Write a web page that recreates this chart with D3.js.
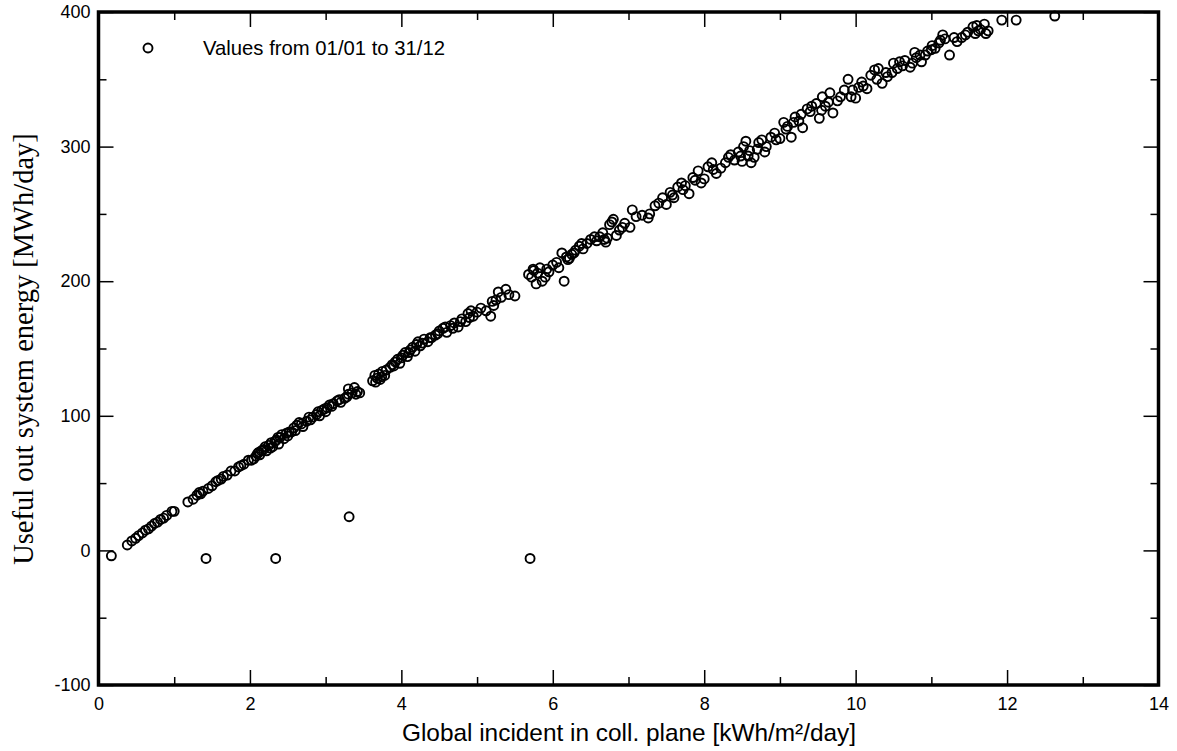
<!DOCTYPE html>
<html><head><meta charset="utf-8">
<script src="https://cdn.jsdelivr.net/npm/d3@7"></script>
<style>body{margin:0;background:#fff}</style>
</head><body>
<svg id="chart" width="1177" height="751"></svg>
<script>
// Global incident in collector plane [kWh/m²/day]
const xValues = [
0.17,1.42,2.34,3.31,5.70,
0.38,0.44,0.49,0.53,0.58,0.62,0.66,0.70,0.74,0.78,0.82,0.86,0.90,0.97,1.00,
1.18,1.25,1.30,1.33,1.38,1.45,1.55,1.58,1.62,1.70,1.75,1.80,1.85,1.92,1.98,2.02,2.05,
2.08,2.10,2.13,2.15,2.18,2.20,2.22,2.25,2.28,2.30,2.33,2.35,2.38,2.40,2.42,2.45,2.48,2.50,2.55,2.60,2.62,2.65,2.70,2.75,2.80,2.83,2.88,2.92,2.95,2.98,3.02,3.05,3.10,3.15,3.20,3.25,3.30,3.35,3.38,3.42,3.45,3.30,
3.62,3.65,3.68,3.70,3.72,3.75,3.78,3.80,3.85,3.88,3.92,3.95,3.98,4.02,4.05,4.08,4.12,4.15,4.18,4.20,4.22,
4.25,4.30,4.35,4.40,4.45,4.50,4.55,4.60,4.65,4.70,4.75,4.80,4.85,4.88,4.92,4.95,5.05,5.12,5.18,5.22,5.25,5.28,5.32,5.38,5.42,5.50,
5.68,5.72,5.75,5.78,5.80,5.83,5.86,5.90,5.95,6.00,6.05,6.08,6.12,6.15,6.18,6.22,6.25,6.30,6.35,6.40,
6.45,6.50,6.58,6.62,6.66,6.70,6.72,6.78,6.80,6.84,6.88,6.95,7.02,7.05,7.18,7.26,7.28,7.35,7.45,7.50,7.55,7.60,7.65,7.70,7.72,7.80,7.88,7.92,7.96,8.05,8.10,8.16,8.22,8.28,8.35,8.40,8.45,8.50,
8.52,8.55,8.58,8.62,8.66,8.70,8.76,8.82,8.88,8.93,9.00,9.05,9.10,9.15,9.20,9.25,9.30,9.36,9.42,9.48,9.52,9.56,9.60,9.66,9.70,9.76,9.85,9.90,9.94,10.00,10.04,10.08,10.15,10.20,10.25,10.30,10.35,10.42,10.48,10.50,
10.55,10.58,10.65,10.72,10.78,10.80,10.87,10.92,10.95,11.01,11.05,11.10,11.15,11.18,11.24,11.34,11.40,11.48,11.55,11.60,11.58,11.65,11.70,11.72,11.75,11.93,12.12,12.63,
1.35,1.50,1.65,1.88,
2.12,2.27,2.37,2.52,2.58,2.68,2.78,2.90,3.00,3.08,3.18,3.28,3.40,
3.66,3.74,3.90,4.00,4.10,
4.28,4.38,4.48,4.58,4.68,4.78,4.90,5.00,5.20,
5.74,5.92,6.20,6.28,6.38,
6.55,6.68,6.75,6.92,7.10,7.40,7.58,7.75,7.85,8.00,8.12,8.32,8.48,
8.60,8.72,8.80,8.95,9.08,9.18,9.28,9.40,9.55,9.64,9.80,9.96,10.10,10.28,10.40,
10.62,10.75,10.85,11.00,11.12,11.30,11.45,11.62
];
// Useful out system energy [MWh/day]
const yValues = [
-4,-6,-6,25,-6,
4,7,9,11,13,15,16,18,20,21,23,24,26,29,29,
36,38,41,43,44,46,51,52,53,56,59,59,62,64,67,67,68,
70,72,71,74,75,77,74,78,80,77,81,82,79,84,86,83,87,85,88,89,93,95,92,96,97,99,101,100,104,105,106,108,109,111,110,113,116,117,121,118,117,120,
126,130,128,131,127,133,130,134,136,138,140,142,139,145,147,144,149,151,148,153,155,
152,157,155,158,160,163,165,162,167,169,166,172,170,176,178,174,180,178,174,182,186,192,188,194,190,189,
205,203,208,198,206,210,200,203,207,212,214,210,221,200,218,217,220,223,226,224,
228,231,230,233,236,229,232,244,246,234,238,243,240,253,249,247,250,256,262,257,266,262,270,273,268,265,275,282,273,285,288,280,284,288,294,290,296,289,
300,304,293,288,292,298,305,300,307,310,306,318,315,307,322,319,314,328,330,332,321,337,330,340,325,334,342,350,337,336,344,348,343,353,357,358,347,352,355,362,
358,363,364,359,370,366,363,368,371,375,373,377,383,380,368,378,381,385,389,390,384,387,391,384,386,394,394,397,
42,48,55,63,
73,76,84,88,91,94,99,103,103,107,112,114,116,
125,129,137,143,147,
154,158,161,166,165,170,173,177,185,
209,209,216,221,228,
233,231,242,240,248,258,264,271,277,276,283,292,293,
297,303,296,305,313,318,324,326,327,333,337,342,345,350,355,
360,362,368,372,379,381,383,386
];
const xTicks = [0,2,4,6,8,10,12,14];
const yTicks = [-100,0,100,200,300,400];
const xMinor = [1,3,5,7,9,11,13];
const yMinor = [-50,50,150,250,350];
const legendLabel = "Values from 01/01 to 31/12";
const xTitle = "Global incident in coll. plane [kWh/m\u00B2/day]";
const yTitle = "Useful out system energy [MWh/day]";

const svg = d3.select("#chart");
const L = 98.5, R = 1158.5, T = 12, B = 685;
const x = d3.scaleLinear().domain([0,14]).range([L,R]);
const y = d3.scaleLinear().domain([-100,400]).range([B,T]);

// points
const pts = xValues.map((v,i)=>({x:v,y:yValues[i]}));
svg.append("g").selectAll("circle").data(pts).join("circle")
  .attr("cx",d=>x(d.x)).attr("cy",d=>y(d.y)).attr("r",4.5)
  .attr("fill","none").attr("stroke","#000").attr("stroke-width",1.9);

// axes (inward ticks on all four sides)
function styleAxis(g){
  g.select(".domain").remove();
  g.selectAll(".tick line").attr("stroke","#000").attr("stroke-width",1.5);
  g.selectAll(".tick text").attr("font-family","Liberation Sans, Arial, sans-serif").attr("font-size",18).attr("fill","#000");
}
const fmt = d => String(d);
svg.append("g").attr("transform",`translate(0,${B})`)
  .call(d3.axisBottom(x).tickValues(xTicks).tickFormat(fmt).tickSizeInner(-15).tickPadding(12))
  .call(styleAxis);
svg.append("g").attr("transform",`translate(0,${B})`)
  .call(d3.axisBottom(x).tickValues(xMinor).tickFormat("").tickSizeInner(-8)).call(styleAxis);
svg.append("g").attr("transform",`translate(0,${T})`)
  .call(d3.axisTop(x).tickValues(xTicks).tickFormat("").tickSizeInner(-15)).call(styleAxis);
svg.append("g").attr("transform",`translate(0,${T})`)
  .call(d3.axisTop(x).tickValues(xMinor).tickFormat("").tickSizeInner(-8)).call(styleAxis);
svg.append("g").attr("transform",`translate(${L},0)`)
  .call(d3.axisLeft(y).tickValues(yTicks).tickFormat(fmt).tickSizeInner(-15).tickPadding(8))
  .call(styleAxis);
svg.append("g").attr("transform",`translate(${L},0)`)
  .call(d3.axisLeft(y).tickValues(yMinor).tickFormat("").tickSizeInner(-8)).call(styleAxis);
svg.append("g").attr("transform",`translate(${R},0)`)
  .call(d3.axisRight(y).tickValues(yTicks).tickFormat("").tickSizeInner(-15)).call(styleAxis);
svg.append("g").attr("transform",`translate(${R},0)`)
  .call(d3.axisRight(y).tickValues(yMinor).tickFormat("").tickSizeInner(-8)).call(styleAxis);

// frame
svg.append("rect").attr("x",L).attr("y",T).attr("width",R-L).attr("height",B-T)
  .attr("fill","none").attr("stroke","#000").attr("stroke-width",3.5);

// legend
svg.append("circle").attr("cx",148).attr("cy",48).attr("r",4.5)
  .attr("fill","none").attr("stroke","#000").attr("stroke-width",1.9);
svg.append("text").attr("x",203).attr("y",55).text(legendLabel)
  .attr("font-family","Liberation Sans, Arial, sans-serif").attr("font-size",20.3).attr("fill","#000");

// titles
svg.append("text").attr("x",629).attr("y",741).attr("text-anchor","middle").text(xTitle)
  .attr("font-family","Liberation Sans, Arial, sans-serif").attr("font-size",24.4).attr("fill","#000");
svg.append("text").attr("transform","translate(33,349) rotate(-90)").attr("text-anchor","middle").text(yTitle)
  .attr("font-family","Liberation Serif, Times New Roman, serif").attr("font-size",28.5).attr("fill","#000");
</script>
</body></html>
